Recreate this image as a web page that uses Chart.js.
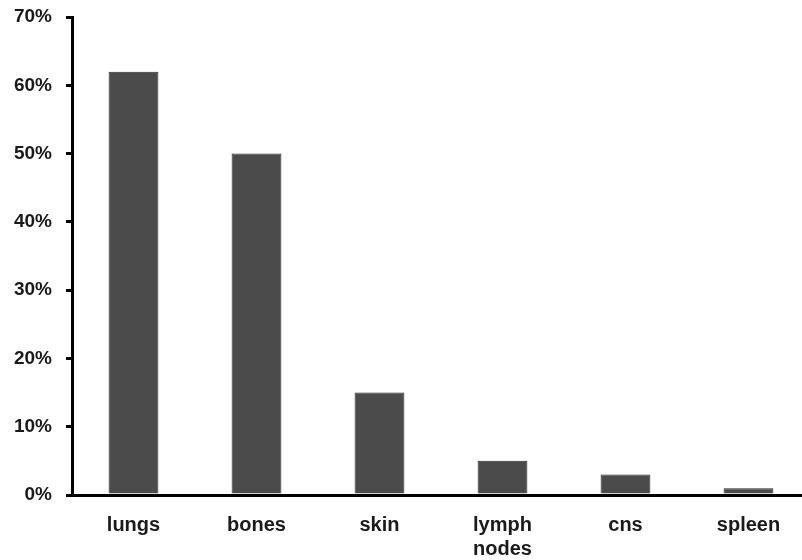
<!DOCTYPE html>
<html>
<head>
<meta charset="utf-8">
<script src="https://cdn.jsdelivr.net/npm/chart.js@4"></script>
<style>
html,body{margin:0;padding:0;background:#fff;overflow:hidden;}
#wrap{width:810px;height:560px;}
</style>
</head>
<body>
<div id="wrap"><canvas id="c" width="810" height="560"></canvas></div>
<script>
const categories = [["lungs"], ["bones"], ["skin"], ["lymph", "nodes"], ["cns"], ["spleen"]];
const values = [62, 50, 15, 5, 3, 1];
const yTicks = [0, 10, 20, 30, 40, 50, 60, 70];

new Chart(document.getElementById('c'), {
  type: 'bar',
  data: {
    labels: categories,
    datasets: [{
      data: values,
      backgroundColor: '#4b4b4b',
      borderColor: '#2a2a2a',
      borderWidth: 1,
      categoryPercentage: 1,
      barPercentage: 0.405
    }]
  },
  options: {
    responsive: false,
    animation: false,
    devicePixelRatio: 1,
    layout: { padding: { top: 17, right: 0, left: 0, bottom: 0 } },
    plugins: { legend: { display: false }, tooltip: { enabled: false } },
    scales: {
      x: {
        offset: true,
        grid: { display: true, drawOnChartArea: false, drawTicks: false },
        border: { display: true, color: '#000', width: 3 },
        ticks: {
          color: '#1a1a1a',
          font: { family: 'Liberation Sans, Arial, sans-serif', size: 20, weight: 'bold', lineHeight: 1.2 },
          padding: 18,
          maxRotation: 0,
          autoSkip: false
        },
        afterFit: s => { s.height = 65; }
      },
      y: {
        min: 0, max: 70,
        afterBuildTicks: s => { s.ticks = yTicks.map(v => ({ value: v })); },
        grid: { display: true, drawOnChartArea: false, drawTicks: true, tickLength: 6, color: '#000', lineWidth: 3 },
        border: { display: true, color: '#000', width: 3 },
        ticks: {
          color: '#1a1a1a',
          font: { family: 'Liberation Sans, Arial, sans-serif', size: 19, weight: 'bold', lineHeight: 0.5 },
          padding: 14,
          callback: v => v + '%'
        },
        afterFit: s => { s.width = 72; s.paddingTop = 0; s.paddingBottom = 0; }
      }
    }
  }
});
</script>
</body>
</html>
